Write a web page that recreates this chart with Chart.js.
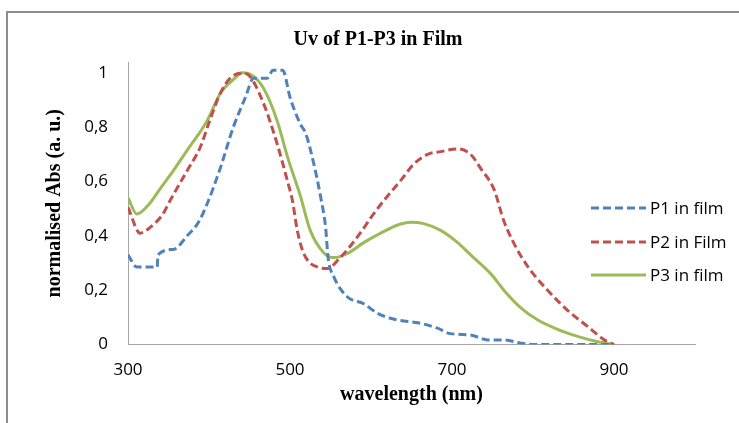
<!DOCTYPE html>
<html>
<head>
<meta charset="utf-8">
<script src="https://cdn.jsdelivr.net/npm/chart.js@4"></script>
<style>
  body { margin: 0; background: #fff; }
  #wrap { position: relative; width: 739px; height: 423px; overflow: hidden; }
  #frame { position: absolute; left: 6px; top: 11px; width: 800px; height: 500px;
           border-left: 2px solid #8c8c8c; border-top: 2px solid #8c8c8c; }
  canvas { position: absolute; left: 0; top: 0; }
</style>
</head>
<body>
<div id="wrap">
  <div id="frame"></div>
  <canvas id="myChart" width="739" height="423"></canvas>
</div>
<script>
// values
let p1Wl  = [300, 311, 336, 337, 356, 373, 387, 398, 414, 430, 445, 455, 472, 479, 491, 500, 513, 519, 529, 538, 544, 547, 554, 571, 591, 608, 633, 658, 682, 698, 723, 744, 764, 785, 804, 900];
let p1Abs = [0.33, 0.285, 0.285, 0.33, 0.35, 0.40, 0.45, 0.52, 0.65, 0.80, 0.91, 0.98, 0.98, 1.01, 1.01, 0.91, 0.81, 0.78, 0.67, 0.54, 0.43, 0.32, 0.25, 0.175, 0.15, 0.115, 0.09, 0.08, 0.06, 0.04, 0.035, 0.017, 0.017, 0.005, 0, 0];

let p2Wl  = [300, 315, 327, 343, 352, 373, 389, 401, 414, 426, 442, 451, 467, 484, 497, 503, 509, 517, 534, 546, 562, 583, 603, 620, 637, 653, 670, 686, 707, 723, 735, 752, 764, 776, 794, 818, 843, 868, 888, 900];
let p2Abs = [0.505, 0.41, 0.43, 0.48, 0.53, 0.64, 0.725, 0.825, 0.925, 0.98, 1.0, 0.985, 0.89, 0.74, 0.60, 0.53, 0.42, 0.335, 0.285, 0.28, 0.32, 0.395, 0.48, 0.545, 0.605, 0.665, 0.70, 0.71, 0.72, 0.70, 0.65, 0.57, 0.455, 0.375, 0.285, 0.20, 0.125, 0.065, 0.017, 0];

let p3Wl  = [300, 311, 327, 340, 356, 373, 385, 398, 414, 430, 442, 451, 467, 484, 497, 513, 525, 541, 554, 571, 591, 612, 633, 649, 665, 686, 707, 723, 748, 764, 785, 806, 831, 855, 880, 900];
let p3Abs = [0.54, 0.48, 0.52, 0.575, 0.64, 0.715, 0.765, 0.825, 0.925, 0.975, 1.0, 0.995, 0.945, 0.825, 0.69, 0.545, 0.42, 0.34, 0.32, 0.335, 0.375, 0.41, 0.44, 0.45, 0.445, 0.42, 0.375, 0.33, 0.26, 0.20, 0.135, 0.09, 0.055, 0.03, 0.01, 0];

let seriesNames = ["P1 in film", "P2 in Film", "P3 in film"];
let xTicks = [300, 500, 700, 900];
let yTicks = [0, 0.2, 0.4, 0.6, 0.8, 1];

function pts(xs, ys) {
  return xs.map((x, i) => ({ x: x, y: ys[i] }));
}

// titre + légende dessinés à la main (positions comme Excel)
const extras = {
  id: "extras",
  afterDraw(chart) {
    let ctx = chart.ctx;
    ctx.save();
    ctx.fillStyle = "#000";
    ctx.font = "bold 20px 'Liberation Serif'";
    ctx.textAlign = "center";
    ctx.textBaseline = "middle";
    ctx.fillText("Uv of P1-P3 in Film", 378, 40);

    let rowsY = [208, 242, 275];
    chart.data.datasets.forEach((ds, i) => {
      ctx.strokeStyle = ds.borderColor;
      ctx.lineWidth = ds.borderWidth;
      ctx.setLineDash(ds.borderDash || []);
      ctx.beginPath();
      ctx.moveTo(591, rowsY[i]);
      ctx.lineTo(646, rowsY[i]);
      ctx.stroke();
      ctx.setLineDash([]);
      ctx.fillStyle = "#000";
      ctx.font = "17px 'Open Sans'";
      ctx.textAlign = "left";
      ctx.fillText(ds.label, 650, rowsY[i] + 1);
    });
    ctx.restore();
  }
};

let ctx = document.getElementById("myChart").getContext("2d");
new Chart(ctx, {
  type: "line",
  data: {
    datasets: [
      { label: seriesNames[0], data: pts(p1Wl, p1Abs), borderColor: "#4F81BD", borderDash: [8, 4] },
      { label: seriesNames[1], data: pts(p2Wl, p2Abs), borderColor: "#C0504D", borderDash: [8, 4] },
      { label: seriesNames[2], data: pts(p3Wl, p3Abs), borderColor: "#9BBB59" }
    ].map(d => Object.assign(d, { borderWidth: 3, pointRadius: 0, fill: false, cubicInterpolationMode: "monotone" }))
  },
  options: {
    responsive: false,
    animation: false,
    devicePixelRatio: 1,
    layout: { padding: { left: 0, top: 62, right: 44, bottom: 0 } },
    plugins: { legend: { display: false }, title: { display: false }, tooltip: { enabled: false } },
    scales: {
      x: {
        type: "linear",
        min: 300,
        max: 1000,
        grid: { display: false, drawTicks: false },
        border: { color: "#a6a6a6", width: 1 },
        afterBuildTicks: s => { s.ticks = xTicks.map(v => ({ value: v })); },
        afterFit: s => { s.height = 78.5; },
        ticks: { color: "#000", padding: 15, maxRotation: 0, font: { family: "Open Sans", size: 17 } },
        title: {
          display: true,
          text: "wavelength (nm)",
          color: "#000",
          padding: { top: 0, bottom: 16 },
          font: { family: "Liberation Serif", size: 20, weight: "bold" }
        }
      },
      y: {
        min: 0,
        max: 1.04,
        grid: { display: false, drawTicks: false },
        border: { color: "#a6a6a6", width: 1 },
        afterBuildTicks: s => { s.ticks = yTicks.map(v => ({ value: v })); },
        afterFit: s => { s.width = 128; },
        ticks: {
          color: "#000",
          padding: 20,
          font: { family: "Open Sans", size: 17 },
          callback: v => (v === 0 || v === 1) ? String(v) : v.toFixed(1).replace(".", ",")
        },
        title: {
          display: true,
          text: "normalised Abs (a. u.)",
          color: "#000",
          padding: { top: 43, bottom: 0 },
          font: { family: "Liberation Serif", size: 20, weight: "bold" }
        }
      }
    }
  },
  plugins: [extras]
});
</script>
</body>
</html>
